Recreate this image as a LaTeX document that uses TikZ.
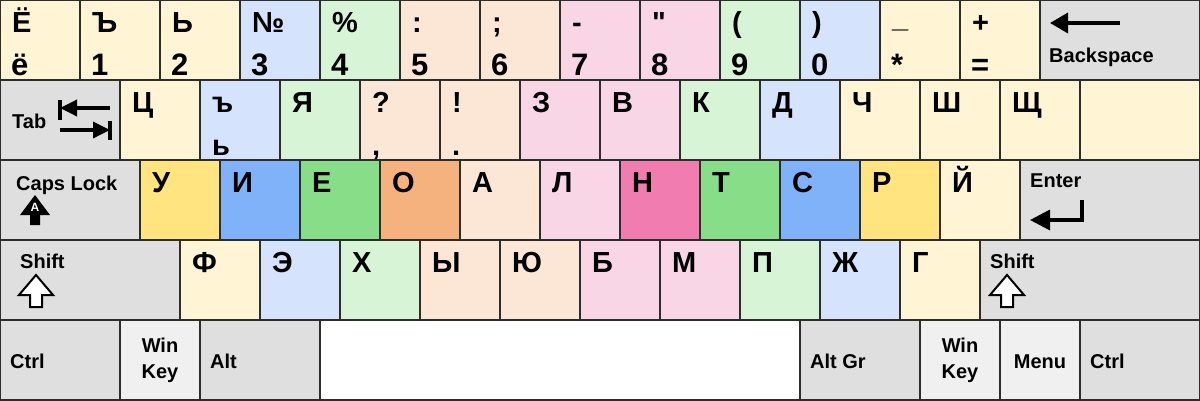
\documentclass[tikz,border=0pt]{standalone}
\usepackage{fontspec}
\setmainfont{Liberation Sans}[Ligatures=TeXOff]
\usepackage{tikz}
\usetikzlibrary{
    arrows.meta,
    positioning
}

% Key colours
\definecolor{kYel}{RGB}{255,245,213}
\definecolor{kBlu}{RGB}{213,228,252}
\definecolor{kGrn}{RGB}{216,244,214}
\definecolor{kPch}{RGB}{252,230,214}
\definecolor{kPnk}{RGB}{249,214,230}
\definecolor{kYelS}{RGB}{255,228,128}
\definecolor{kBluS}{RGB}{128,178,250}
\definecolor{kGrnS}{RGB}{136,222,136}
\definecolor{kOrgS}{RGB}{246,178,126}
\definecolor{kPnkS}{RGB}{240,124,176}
\definecolor{kGry}{RGB}{223,223,223}
\definecolor{kGryL}{RGB}{240,240,240}
\definecolor{kEdge}{RGB}{45,45,45}

\tikzset{
    keybox/.style={draw=kEdge, line width=1.6pt, rectangle, inner sep=0pt, outer sep=0pt,
        anchor=north west, minimum height=80pt},
    glyph/.style={anchor=base west, inner sep=0pt, font=\fontsize{29}{31}\selectfont\bfseries},
    digit/.style={anchor=base west, inner sep=0pt, font=\fontsize{31}{33}\selectfont\bfseries},
    modlabel/.style={anchor=base west, inner sep=0pt, font=\fontsize{20}{23}\selectfont\bfseries},
    modtwo/.style={align=center, inner sep=0pt, font=\fontsize{20}{26}\selectfont\bfseries},
    icon/.style={line width=3.5pt, black}
}

\begin{document}
\begin{tikzpicture}[x=1pt, y=-1pt]
\useasboundingbox (0,0) rectangle (1200,400);

% Number row
\foreach \i/\c/\up/\dn in {0/kYel/Ё/ё, 1/kYel/Ъ/1, 2/kYel/Ь/2, 3/kBlu/№/3, 4/kGrn/\%/4,
    5/kPch/:/5, 6/kPch/;/6, 7/kPnk/-/7, 8/kPnk/"/8, 9/kGrn/{(}/9, 10/kBlu/{)}/0,
    11/kYel/{\raisebox{5pt}{\_}}/*, 12/kYel/+/=} {
    \node[keybox, fill=\c, minimum width=80pt] (num\i) at (\i*80,0) {};
    \node[glyph] (num\i up) at ([shift={(12,32)}]num\i.north west) {\up};
    \node[digit] (num\i dn) at ([shift={(11,75)}]num\i.north west) {\dn};
}
\node[keybox, fill=kGry, minimum width=160pt] (bksp) at (1040,0) {};
\node[modlabel] (bksp txt) at ([shift={(9,62)}]bksp.north west) {Backspace};
\draw[icon, -{Triangle[length=18pt, width=20pt]}]
    ([shift={(80,23)}]bksp.north west) -- ([shift={(10,23)}]bksp.north west);

% Top letter row
\node[keybox, fill=kGry, minimum width=120pt] (tab) at (0,80) {};
\node[modlabel] (tab txt) at ([shift={(12,48)}]tab.north west) {Tab};
\draw[icon] ([shift={(60,20)}]tab.north west) -- ([shift={(60,40)}]tab.north west);
\draw[icon, -{Triangle[length=17pt, width=16pt]}]
    ([shift={(110,28)}]tab.north west) -- ([shift={(60,28)}]tab.north west);
\draw[icon] ([shift={(110,41)}]tab.north west) -- ([shift={(110,60)}]tab.north west);
\draw[icon, -{Triangle[length=17pt, width=16pt]}]
    ([shift={(60,50)}]tab.north west) -- ([shift={(110,50)}]tab.north west);
\foreach \i/\c/\up in {0/kYel/Ц, 1/kBlu/ъ, 2/kGrn/Я, 3/kPch/?, 4/kPch/!, 5/kPnk/З,
    6/kPnk/В, 7/kGrn/К, 8/kBlu/Д, 9/kYel/Ч, 10/kYel/Ш, 11/kYel/Щ} {
    \node[keybox, fill=\c, minimum width=80pt] (top\i) at (120+\i*80,80) {};
    \node[glyph] (top\i up) at ([shift={(12,32)}]top\i.north west) {\up};
}
\foreach \i/\dn in {1/ь, 3/{,}, 4/.} {
    \node[glyph] (top\i dn) at ([shift={(12,75)}]top\i.north west) {\dn};
}
\node[keybox, fill=kYel, minimum width=120pt] (top12) at (1080,80) {};

% Home row
\node[keybox, fill=kGry, minimum width=140pt] (caps) at (0,160) {};
\node[modlabel] (caps txt) at ([shift={(16,30)}]caps.north west) {Caps Lock};
\fill[black] ([shift={(35,35)}]caps.north west) -- ++(15,20) -- ++(-10,0) -- ++(0,10)
    -- ++(-10,0) -- ++(0,-10) -- ++(-10,0) -- cycle;
\node[white, inner sep=0pt, font=\fontsize{12}{12}\selectfont\bfseries] (caps a)
    at ([shift={(35,47)}]caps.north west) {A};
\foreach \i/\c/\up in {0/kYelS/У, 1/kBluS/И, 2/kGrnS/Е, 3/kOrgS/О, 4/kPch/А, 5/kPnk/Л,
    6/kPnkS/Н, 7/kGrnS/Т, 8/kBluS/С, 9/kYelS/Р, 10/kYel/Й} {
    \node[keybox, fill=\c, minimum width=80pt] (home\i) at (140+\i*80,160) {};
    \node[glyph] (home\i up) at ([shift={(12,32)}]home\i.north west) {\up};
}
\node[keybox, fill=kGry, minimum width=180pt] (enter) at (1020,160) {};
\node[modlabel] (enter txt) at ([shift={(10,27)}]enter.north west) {Enter};
\draw[icon, -{Triangle[length=20pt, width=20pt]}] ([shift={(62,40)}]enter.north west)
    -- ([shift={(62,60)}]enter.north west) -- ([shift={(10,60)}]enter.north west);

% Bottom letter row
\node[keybox, fill=kGry, minimum width=180pt] (lshift) at (0,240) {};
\node[modlabel] (lshift txt) at ([shift={(20,28)}]lshift.north west) {Shift};
\draw[line width=2pt, fill=white] ([shift={(36,35)}]lshift.north west) -- ++(17,20)
    -- ++(-11,0) -- ++(0,12) -- ++(-12,0) -- ++(0,-12) -- ++(-11,0) -- cycle;
\foreach \i/\c/\up in {0/kYel/Ф, 1/kBlu/Э, 2/kGrn/Х, 3/kPch/Ы, 4/kPch/Ю, 5/kPnk/Б,
    6/kPnk/М, 7/kGrn/П, 8/kBlu/Ж, 9/kYel/Г} {
    \node[keybox, fill=\c, minimum width=80pt] (low\i) at (180+\i*80,240) {};
    \node[glyph] (low\i up) at ([shift={(12,32)}]low\i.north west) {\up};
}
\node[keybox, fill=kGry, minimum width=220pt] (rshift) at (980,240) {};
\node[modlabel] (rshift txt) at ([shift={(10,28)}]rshift.north west) {Shift};
\draw[line width=2pt, fill=white] ([shift={(27,35)}]rshift.north west) -- ++(17,20)
    -- ++(-11,0) -- ++(0,12) -- ++(-12,0) -- ++(0,-12) -- ++(-11,0) -- cycle;

% Space row
\foreach \n/\x/\w/\c in {lctrl/0/120/kGry, lwin/120/80/kGryL, lalt/200/120/kGry,
    space/320/480/white, altgr/800/120/kGry, rwin/920/80/kGryL, menu/1000/80/kGryL,
    rctrl/1080/120/kGry} {
    \node[keybox, fill=\c, minimum width=\w pt] (\n) at (\x,320) {};
}
\node[modlabel] (lctrl txt) at ([shift={(10,48)}]lctrl.north west) {Ctrl};
\node[modtwo] (lwin txt) at (lwin) {Win\\Key};
\node[modlabel] (lalt txt) at ([shift={(10,48)}]lalt.north west) {Alt};
\node[modlabel] (altgr txt) at ([shift={(10,48)}]altgr.north west) {Alt Gr};
\node[modtwo] (rwin txt) at (rwin) {Win\\Key};
\node[modlabel, anchor=base] (menu txt) at ([shift={(40,48)}]menu.north west) {Menu};
\node[modlabel] (rctrl txt) at ([shift={(10,48)}]rctrl.north west) {Ctrl};

\end{tikzpicture}
\end{document}
